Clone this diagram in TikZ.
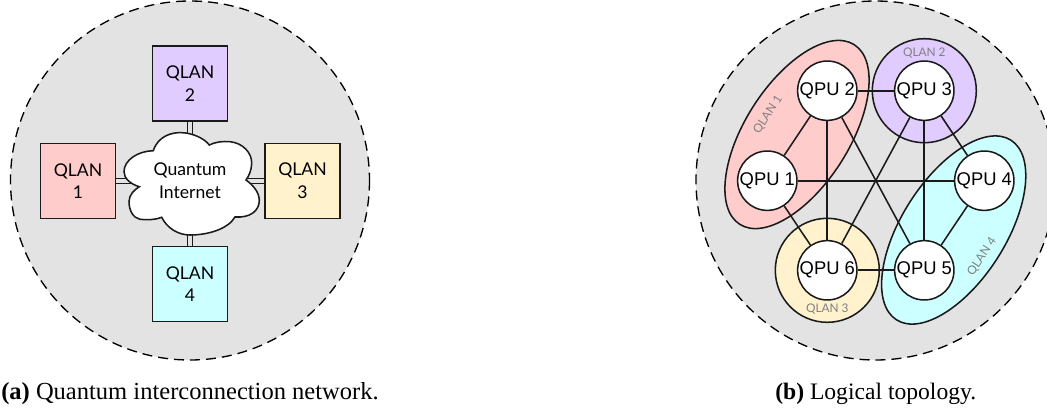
\documentclass[tikz,border=0pt]{standalone}
\usepackage{fontspec}
\usetikzlibrary{shapes.geometric}
\setmainfont{Liberation Serif}
\newfontfamily\qlanfont{Lato}
\newfontfamily\qpufont{Liberation Sans}
\definecolor{bggray}{HTML}{E3E3E3}
\definecolor{qred}{HTML}{FFCCCC}
\definecolor{qpurple}{HTML}{E1CCFF}
\definecolor{qyellow}{HTML}{FFF2CC}
\definecolor{qcyan}{HTML}{CCFFFF}
\definecolor{linedark}{HTML}{1A1A1A}
\definecolor{lblgray}{HTML}{808080}
\tikzset{
  zone/.style={draw=black,fill=bggray,line width=1pt,dash pattern=on 7.5pt off 4.5pt},
  qlanbox/.style={draw=linedark,line width=1.15pt,minimum size=56.25pt,inner sep=0pt,align=center,font=\qlanfont\fontsize{13.2}{17}\selectfont},
  link/.style={double=bggray,draw=linedark,line width=1.15pt,double distance=2.6pt},
  ring/.style={circle,draw=linedark,line width=1.15pt,minimum size=78pt,inner sep=0pt},
  lobe/.style={ellipse,draw=linedark,line width=1.15pt,minimum width=159.75pt,minimum height=78pt,inner sep=0pt,rotate=57.5},
  qpu/.style={circle,draw=linedark,fill=white,line width=1.15pt,minimum size=44.5pt,inner sep=0pt,font=\qpufont\fontsize{13.8}{15}\selectfont},
  edge/.style={draw=linedark,line width=1.5pt},
  diagedge/.style={draw=linedark,line width=1.15pt},
  tag/.style={text=lblgray,inner sep=0pt,font=\qlanfont\fontsize{8.9}{10}\selectfont},
  capt/.style={anchor=base west,inner sep=0pt},
}
\begin{document}
\begin{tikzpicture}[x=0.75pt,y=-0.75pt]
\useasboundingbox (0,0) rectangle (1047,412);
\clip (0,0) rectangle (1047,412);
% panel (a)
\path[zone] (190,180.5) circle (179.5);
\node[qlanbox,fill=qred] (q1) at (78,181) {QLAN\\1};
\node[qlanbox,fill=qpurple] (q2) at (190,83.5) {QLAN\\2};
\node[qlanbox,fill=qyellow] (q3) at (302.5,181) {QLAN\\3};
\node[qlanbox,fill=qcyan] (q4) at (190,284) {QLAN\\4};
\coordinate (cc) at (190,181);
\draw[link] (q1) -- (cc);
\draw[link] (q2) -- (cc);
\draw[link] (q3) -- (cc);
\draw[link] (q4) -- (cc);
\path[draw=linedark,fill=white,line width=1.15pt]
  (153.3,150.7) .. controls (158,136) and (172,132) .. (182,132.7)
  .. controls (192,133) and (204,138) .. (209.3,145)
  .. controls (215,142) and (223,141) .. (230,141.7)
  .. controls (243,143) and (252,153) .. (251.7,163.3)
  .. controls (251.5,170) and (249,176) .. (246,180)
  .. controls (253,185) and (259,192) .. (259.3,200)
  .. controls (259.5,211) and (250,218) .. (235,217)
  .. controls (228,229) and (208,235) .. (190,235)
  .. controls (178,235) and (167,228) .. (161.7,217.3)
  .. controls (155,220) and (147,220) .. (140,219.3)
  .. controls (133,218) and (129,210) .. (129,201.7)
  .. controls (129,195) and (134,190) .. (139.3,186.7)
  .. controls (130,184) and (124,178) .. (124,171.7)
  .. controls (124,160) and (138,151) .. (153.3,150.7) -- cycle;
\node[align=center,inner sep=0pt,font=\qlanfont\fontsize{13.2}{17}\selectfont] (cloud) at (190,181) {Quantum\\Internet};
\node[capt,font=\fontsize{18.4}{20}\selectfont] (capa) at (1,399) {\textbf{(a)} Quantum interconnection network.};
% panel (b)
\path[zone] (875.5,180.5) circle (179.5);
\node[lobe,fill=qred] (l1) at (797,134.5) {};
\node[ring,fill=qpurple] (l2) at (924.3,90.7) {};
\node[ring,fill=qyellow] (l3) at (827.3,270.3) {};
\node[lobe,fill=qcyan] (l4) at (953.7,230) {};
\node[qpu] (p1) at (767.3,180.7) {QPU 1};
\node[qpu] (p2) at (827.3,90.7) {QPU 2};
\node[qpu] (p3) at (924.3,90.7) {QPU 3};
\node[qpu] (p4) at (984.3,180.7) {QPU 4};
\node[qpu] (p5) at (924.3,270.3) {QPU 5};
\node[qpu] (p6) at (827.3,270.3) {QPU 6};
\draw[diagedge] (p1) -- (p2);
\draw[edge] (p2) -- (p3);
\draw[edge] (p1) -- (p4);
\draw[edge] (p2) -- (p6);
\draw[diagedge] (p2) -- (p5);
\draw[diagedge] (p3) -- (p6);
\draw[edge] (p3) -- (p5);
\draw[diagedge] (p3) -- (p4);
\draw[diagedge] (p1) -- (p6);
\draw[diagedge] (p4) -- (p5);
\draw[edge] (p6) -- (p5);
\node[tag,rotate=56.6] (t1) at (768,115) {QLAN 1};
\node[tag] (t2) at (924.3,53.5) {QLAN 2};
\node[tag] (t3) at (827.3,309) {QLAN 3};
\node[tag,rotate=56.6] (t4) at (982,257) {QLAN 4};
\node[capt,font=\fontsize{17.7}{20}\selectfont] (capb) at (775,399) {\textbf{(b)} Logical topology.};
\end{tikzpicture}
\end{document}
